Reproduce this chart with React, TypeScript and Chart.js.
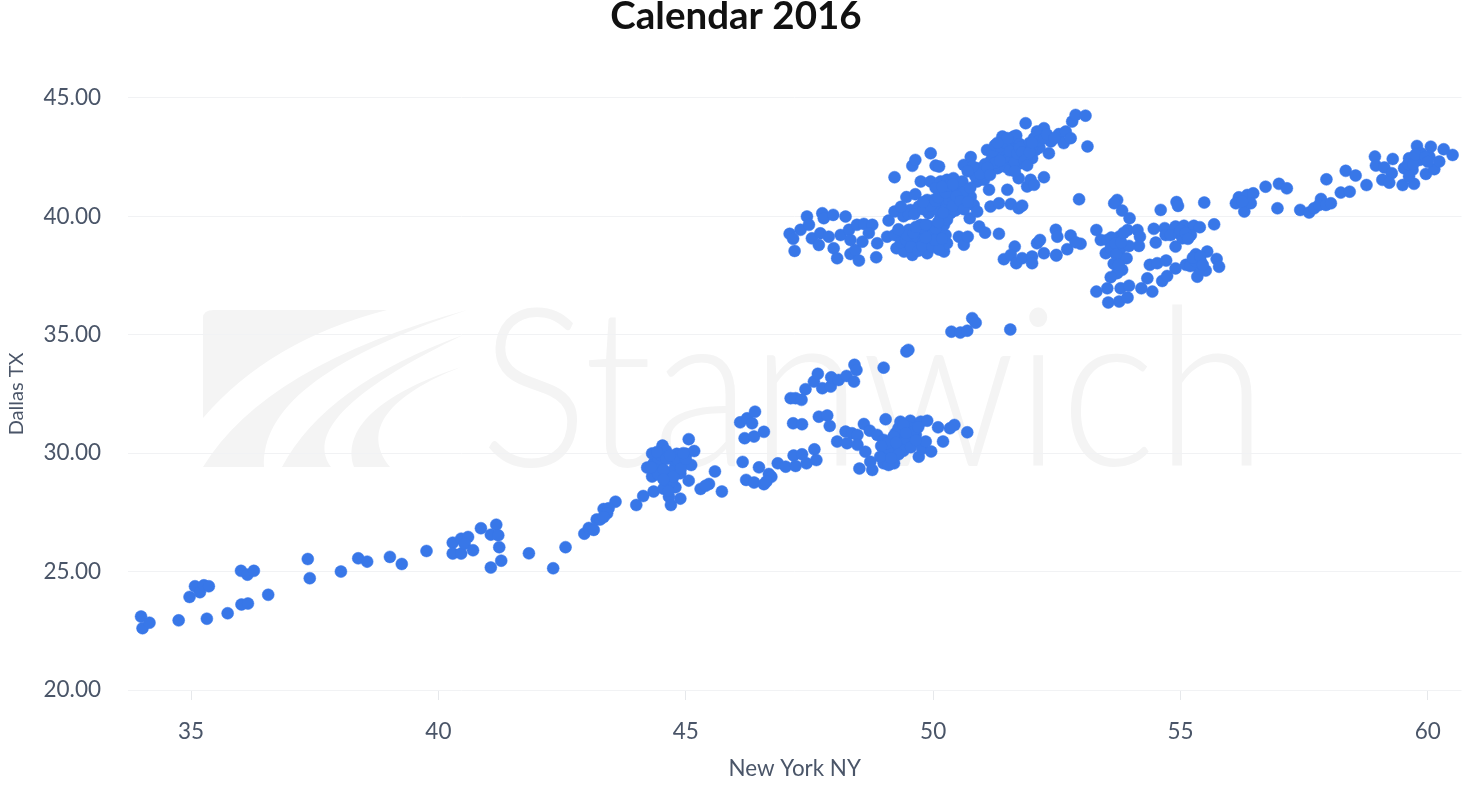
import React, { useEffect, useRef } from "react";
import { Chart, registerables } from "chart.js";

Chart.register(...registerables);

const chartTitle = "Calendar 2016";
const xAxisTitle = "New York NY";
const yAxisTitle = "Dallas TX";
const watermarkText = "Stanwich";
const xTickValues = [35, 40, 45, 50, 55, 60];
const yTickValues = [20, 25, 30, 35, 40, 45];

const lowerRange: [number, number][] = [
  [33.99,23.10],[34.02,22.61],[34.16,22.84],[34.75,22.94],[35.32,23.01],[35.74,23.24],[36.02,23.61],[36.15,23.65],[36.56,24.02],
  [34.97,23.93],[35.08,24.38],[35.18,24.13],[35.26,24.42],[35.36,24.38],[36.01,25.03],[36.14,24.87],[36.27,25.03],[37.36,25.53],
  [37.40,24.72],[38.03,25.0],[38.38,25.56],[38.56,25.42],[39.02,25.62],[39.26,25.32],[39.76,25.87],[40.29,26.22],[40.29,25.76],
  [40.46,26.39],[40.46,25.76],[40.60,26.46],[40.53,26.17],[40.70,25.90],[40.86,26.83],[41.06,26.56],[41.17,26.98],[41.21,26.53],
  [41.23,26.03],[41.06,25.17],[41.27,25.46],[41.83,25.77],[42.32,25.14],[42.57,26.03],[42.95,26.60],[43.04,26.84],[43.14,26.76],
  [43.2,27.2],[43.34,27.64],[43.58,27.95],[43.44,27.67],[43.41,27.46],[43.27,27.2],[43.34,27.3],
];

const middleRange: [number, number][] = [
  [44.0,27.81],[44.14,28.19],[44.35,28.38],[44.66,28.16],[44.70,27.81],[44.89,28.08],[44.79,28.56],[44.62,28.73],[44.32,29.01],
  [44.22,29.39],[44.35,29.57],[44.32,29.99],[44.53,30.32],[44.45,29.71],[44.62,29.08],[44.72,28.80],[44.82,29.97],[44.79,29.50],
  [44.72,29.22],[44.93,29.5],[45.06,30.59],[45.01,29.97],[45.17,30.09],[45.11,29.5],[44.89,29.15],[45.06,28.84],[45.59,29.23],
  [45.30,28.49],[45.47,28.70],[45.40,28.62],[45.73,28.38],[46.1,31.3],[46.24,31.47],[46.4,31.75],[46.34,31.26],[46.58,30.9],
  [46.19,30.63],[46.38,30.7],[46.15,29.63],[46.22,28.87],[46.38,28.76],[46.48,29.4],[46.58,28.69],[46.68,29.12],[46.73,29.0],
  [46.63,28.8],[46.86,29.57],[47.02,29.43],[47.18,29.9],[47.22,29.46],[47.35,29.95],[47.44,29.57],[47.6,30.16],[47.64,29.71],
  [47.17,31.26],[47.35,31.22],[47.69,31.54],[47.86,31.59],[47.91,31.15],[47.12,32.32],[47.22,32.32],[47.34,32.25],[47.42,32.7],
  [47.59,33.02],[47.67,33.35],[47.76,32.74],[47.93,32.81],[47.94,33.2],[48.09,33.09],[48.25,33.26],[48.4,33.02],[48.41,33.73],
  [48.45,33.51],[49.0,33.61],[49.46,34.29],[49.5,34.36],[50.37,35.13],[50.55,35.09],[50.69,35.17],[50.79,35.7],[50.86,35.51],
  [51.56,35.22],
  [48.06,30.49],[48.23,30.91],[48.36,30.84],[48.26,30.42],[48.47,30.77],[48.47,30.35],[48.63,30.06],[48.6,31.23],[48.72,30.95],
  [48.51,29.35],[48.77,29.29],[48.73,29.64],[48.87,30.77],[49.04,31.43],[49.0,30.56],[49.04,30.0],[49.0,29.57],[49.21,29.57],
  [49.1,29.5],[49.34,31.33],[49.24,30.84],[49.24,30.13],[49.14,30.49],[49.38,30.84],[49.38,30.35],[49.54,31.37],[49.51,30.91],
  [49.65,30.77],[49.75,31.33],[49.61,30.49],[49.71,29.85],[49.78,30.2],[49.88,31.37],[49.85,30.49],[49.96,30.07],[50.1,31.09],
  [50.2,30.49],[50.34,31.05],[50.43,31.19],[50.69,30.88],[49.07,30.27],[49.34,30.56],[49.2,29.85],[49.47,30.27],[48.93,29.85],[49.3,31.05],
  [44.4,29.3],[44.45,29.1],[44.5,29.9],[44.6,30.1],[44.42,30.05],[44.55,28.5],[44.65,28.4],[44.75,29.0],[44.85,29.7],[44.9,29.35],
  [45.0,29.75],[44.95,30.0],[44.6,29.75],[44.68,29.9],[44.55,29.3],[44.3,29.4],[44.55,28.9],
  [49.1,30.2],[49.2,30.7],[49.3,30.3],[49.4,30.1],[49.45,30.6],[49.5,31.1],[49.6,30.9],[49.55,30.25],[49.3,29.95],[49.15,29.8],
  [49.7,31.1],[49.4,31.2],[49.65,30.55],[49.05,30.4],[48.95,30.3],[49.25,30.45],[49.45,30.85],
];

const upperCluster: [number, number][] = [
  [47.1,39.26],[47.17,39.05],[47.2,38.54],[47.32,39.43],[47.45,39.99],[47.49,39.64],[47.55,39.07],[47.69,38.79],[47.76,40.13],
  [47.79,39.92],[47.98,40.06],[47.72,39.28],[47.89,39.14],[47.99,38.65],[48.06,38.23],[48.13,39.21],[48.23,39.99],[48.3,39.43],
  [48.33,39.0],[48.33,38.41],[48.43,38.58],[48.5,38.13],[48.46,39.64],[48.57,38.93],[48.6,39.68],[48.77,39.64],[48.7,39.29],
  [48.85,38.27],[48.87,38.86],[49.07,39.14],[49.22,39.21],[49.1,39.82],[49.22,40.2],[49.22,41.65],[49.26,38.65],[49.41,39.29],
  [49.41,38.51],[49.51,39.43],[49.46,40.81],[49.58,42.13],[49.64,42.38],[49.64,40.93],[49.58,38.37],[49.61,38.86],[49.54,40.27],
  [49.75,41.47],[49.71,40.41],[49.75,39.64],[49.68,39.14],[49.88,38.44],[49.95,42.66],[50.05,42.14],[50.12,42.1],[49.95,41.47],
  [49.88,40.69],[50.01,40.69],[49.91,40.13],[49.95,39.57],[49.91,39.0],[50.08,38.86],[50.22,38.51],[50.15,41.47],[50.12,40.55],
  [50.15,40.0],[50.08,39.29],[50.25,39.21],[50.28,38.86],[50.22,39.64],[50.28,41.54],[50.41,41.61],[50.35,41.11],[50.28,40.55],
  [50.35,40.13],[50.28,39.85],[50.52,39.14],[50.62,38.8],[50.7,39.14],[50.52,40.41],[50.49,41.11],[50.59,41.47],[50.62,42.17],
  [50.76,42.5],[50.76,40.83],[50.82,40.48],[50.74,39.92],[50.89,40.2],[50.93,39.57],[51.05,39.31],[51.33,39.26],[50.89,42.03],
  [50.99,42.03],[50.89,41.47],[51.03,41.54],[51.09,42.8],[51.13,41.12],[51.16,40.41],[51.33,40.55],[51.16,42.31],[51.3,42.03],
  [51.3,42.52],[51.4,43.37],[51.43,42.8],[51.5,41.12],[51.57,40.52],[51.73,40.34],[51.8,40.45],[51.53,43.09],[51.63,43.37],
  [51.68,43.41],[51.6,42.52],[51.67,42.87],[51.77,42.24],[51.73,41.61],[51.77,42.52],[51.9,41.26],[52.0,42.45],[52.07,42.8],
  [52.04,43.3],[51.97,41.54],[52.04,41.33],[52.24,41.65],[51.87,43.93],[52.24,43.72],[52.1,43.58],[52.34,42.66],[52.38,43.16],
  [52.54,43.47],[52.64,43.09],[52.68,43.58],[52.78,43.3],[52.81,44.0],[52.88,44.28],[53.08,44.25],[53.12,42.95],[52.95,40.72],
  [51.65,38.72],[51.43,38.19],[51.57,38.37],[51.68,38.02],[51.8,38.23],[52.0,38.3],[52.0,38.02],[52.1,38.86],[52.16,39.0],
  [52.24,38.44],[52.49,38.37],[52.48,39.43],[52.51,39.14],[52.71,38.61],[52.78,39.19],[52.98,38.84],[52.88,38.9],[52.49,38.34],
  [51.2,42.5],[51.35,42.7],[51.5,42.4],[51.45,42.1],[51.6,42.1],[51.25,42.25],[51.85,42.9],[51.9,42.55],[51.75,43.05],[51.95,43.1],
  [52.15,42.9],[49.85,39.3],[49.8,38.9],[49.98,39.2],[50.05,39.5],[50.4,40.8],[50.45,40.25],[50.2,40.9],[50.6,41.0],[50.05,40.3],
  [49.35,38.9],[49.45,39.0],[49.55,38.7],[49.7,38.55],[49.78,38.75],[49.98,38.7],[50.12,38.6],[50.03,39.0],[49.48,39.2],[49.6,39.3],
  [49.85,39.1],[50.18,39.05],[49.3,39.45],[49.65,39.55],[49.85,39.65],[50.1,39.75],[49.4,40.0],[49.5,40.1],[49.35,40.4],[49.62,40.1],
  [49.8,40.3],[49.95,40.45],[49.8,40.6],[50.05,40.65],[50.25,40.3],[50.32,40.7],[50.4,40.45],[50.2,40.15],[50.1,40.8],[50.25,41.0],
  [50.05,41.2],[50.3,41.3],[50.18,41.25],[50.4,41.35],[50.47,40.85],[50.55,40.65],[50.62,40.3],[50.7,40.6],[50.75,41.2],[50.85,41.7],
  [50.95,41.8],[51.05,42.2],[51.1,42.05],[51.2,42.75],[51.25,43.0],[51.35,42.95],[51.35,42.35],[51.45,43.1],[51.55,42.75],[51.55,41.95],
  [51.65,42.3],[51.7,42.65],[51.75,42.9],[51.8,42.7],[51.85,42.35],[51.9,42.15],[51.65,41.9],[52.0,42.9],[51.95,42.7],[52.15,43.2],
  [52.25,43.3],[52.0,43.1],[52.3,43.45],[52.45,43.3],[51.5,43.3],[51.3,43.1],[50.8,42.1],[50.7,41.9],[51.15,41.75],
];

const upperRight: [number, number][] = [
  [53.3,39.42],[53.39,39.0],[53.52,39.0],[53.49,38.44],[53.59,38.65],[53.76,39.14],[53.79,38.65],[53.82,38.23],[53.72,40.69],
  [53.66,40.55],[53.82,40.24],[53.97,39.92],[53.93,39.42],[54.13,39.42],[54.18,39.14],[54.16,38.75],[53.96,38.75],[53.91,38.23],
  [53.82,37.74],[53.72,37.6],[53.59,37.43],[54.33,37.38],[53.3,36.82],[53.52,36.96],[53.54,36.36],[53.76,36.4],[53.79,36.96],
  [53.93,36.57],[53.96,37.07],[54.21,36.96],[54.43,36.82],[54.38,37.95],[54.53,38.02],[54.71,38.13],[54.63,37.27],[54.73,37.48],
  [54.9,37.8],[54.6,40.27],[54.92,40.6],[54.95,40.44],[55.48,40.58],[54.46,39.47],[54.68,39.5],[54.5,38.89],[54.7,39.21],[54.9,39.57],
  [54.8,39.21],[54.97,39.28],[55.07,39.6],[54.9,38.72],[55.04,39.07],[55.27,39.6],[55.21,39.21],[55.39,39.54],[55.68,39.66],
  [55.11,37.95],[55.31,38.4],[55.21,38.02],[55.34,37.45],[55.41,38.09],[55.54,38.51],[55.51,37.71],[55.37,37.8],[55.73,38.2],
  [55.78,37.87],[56.18,40.8],[56.12,40.55],[56.35,40.9],[56.47,40.97],[56.29,40.2],[56.42,40.55],[56.25,40.62],[56.72,41.25],
  [56.99,41.37],[57.15,41.18],[56.96,40.34],[57.42,40.27],[57.6,40.16],[57.7,40.34],[57.84,40.73],[57.8,40.48],[57.94,40.48],
  [58.04,40.55],[57.95,41.56],[58.24,41.0],[58.42,41.04],[58.34,41.92],[58.54,41.72],[58.76,41.32],[58.93,42.52],[58.95,42.14],
  [59.12,42.06],[59.27,41.82],[59.08,41.54],[59.22,41.42],[59.29,42.42],[59.49,41.32],[59.72,41.37],[59.52,42.03],[59.62,42.45],
  [59.69,41.96],[59.62,41.68],[59.78,42.97],[59.83,42.38],[59.86,42.66],[60.06,42.94],[60.03,42.52],[59.96,41.79],[60.13,41.99],
  [60.23,42.31],[60.32,42.83],[60.5,42.59],
  [53.6,39.1],[53.68,38.85],[53.7,38.4],[53.65,38.0],[53.8,38.9],[53.85,39.3],[53.75,37.95],[55.2,37.9],[55.3,38.1],[55.25,38.25],
  [55.4,38.3],[55.45,37.95],[55.0,39.4],[55.1,39.3],[55.15,39.05],[59.6,42.2],[59.7,42.2],[59.75,42.6],[59.95,42.5],[60.0,42.3],
];

const allPoints = [...lowerRange, ...middleRange, ...upperCluster, ...upperRight];

const watermark = {
  id: "watermark",
  beforeDraw(chart: any) {
    const c = chart.ctx;
    c.save();
    c.fillStyle = "#f4f4f4";
    c.beginPath();
    c.moveTo(203, 418);
    c.lineTo(203, 318);
    c.quadraticCurveTo(203, 310, 214, 310);
    c.lineTo(387, 310);
    c.quadraticCurveTo(270, 340, 203, 418);
    c.closePath();
    c.moveTo(203, 467);
    c.quadraticCurveTo(265, 365, 467, 310);
    c.bezierCurveTo(320, 360, 262, 410, 264, 467);
    c.closePath();
    c.moveTo(282, 467);
    c.quadraticCurveTo(325, 385, 463, 335);
    c.bezierCurveTo(360, 385, 305, 430, 331, 467);
    c.closePath();
    c.moveTo(354, 467);
    c.bezierCurveTo(340, 425, 390, 390, 461, 367);
    c.bezierCurveTo(390, 395, 360, 430, 390, 467);
    c.closePath();
    c.fill();
    c.translate(480, 466);
    c.scale(0.91, 1);
    c.font = "300 222px Lato";
    c.textBaseline = "alphabetic";
    c.textAlign = "left";
    c.fillText(watermarkText, 0, 0);
    c.restore();
  },
};

export default function App() {
  const ref = useRef<HTMLCanvasElement>(null);
  useEffect(() => {
    const chart = new Chart(ref.current as HTMLCanvasElement, {
      type: "scatter",
      data: {
        datasets: [
          {
            label: "Calendar 2016",
            data: allPoints.map(([x, y]) => ({ x, y })),
            backgroundColor: "#3877E8",
            borderColor: "#3877E8",
            pointRadius: 6,
            borderWidth: 0.5,
          },
        ],
      },
      options: {
        animation: false,
        responsive: false,
        layout: { padding: { left: 9, right: 5, top: 0, bottom: 0 } },
        plugins: {
          legend: { display: false },
          tooltip: { enabled: false },
          title: {
            display: true,
            text: chartTitle,
            color: "#111111",
            font: { family: "Lato", size: 38.5, weight: "bold", lineHeight: 0.88 },
            padding: { top: 0, bottom: 64 },
          },
        },
        scales: {
          x: {
            type: "linear",
            min: 33.726,
            max: 60.68,
            afterBuildTicks: (axis: any) => {
              axis.ticks = xTickValues.map((value) => ({ value }));
            },
            afterFit: (axis: any) => {
              axis.height = 96;
            },
            grid: { drawOnChartArea: false, drawTicks: true, tickLength: 10, tickColor: "#e6e8eb" },
            border: { display: false },
            ticks: {
              color: "#4a5568",
              font: { family: "Lato", size: 22.5 },
              padding: 18,
              maxRotation: 0,
            },
            title: {
              display: true,
              text: xAxisTitle,
              color: "#4a5568",
              font: { family: "Lato", size: 22.4 },
              padding: { top: 8, bottom: 3.6 },
            },
          },
          y: {
            type: "linear",
            min: 20,
            max: 45,
            afterBuildTicks: (axis: any) => {
              axis.ticks = yTickValues.map((value) => ({ value }));
            },
            afterFit: (axis: any) => {
              axis.width = 119;
            },
            grid: { drawTicks: false, color: "#f1f2f4", lineWidth: 1 },
            border: { display: false },
            ticks: {
              color: "#4a5568",
              font: { family: "Lato", size: 22.5 },
              padding: 27,
              callback: (v: any) => Number(v).toFixed(2),
            },
            title: {
              display: true,
              text: yAxisTitle,
              color: "#4a5568",
              font: { family: "Lato", size: 20 },
              padding: { top: -4, bottom: 0 },
            },
          },
        },
      },
      plugins: [watermark],
    } as any);
    return () => chart.destroy();
  }, []);
  return (
    <div style={{ position: "fixed", left: 0, top: 0, width: 1468, height: 786, background: "#fff" }}>
      <canvas ref={ref} width={1468} height={786} style={{ display: "block" }} />
    </div>
  );
}
